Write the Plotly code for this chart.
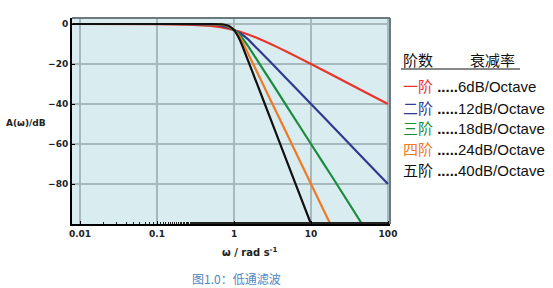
import plotly.graph_objects as go

# Data (frequency in rad/s, attenuation in dB)
freq = [0.008, 0.1, 0.3, 0.5, 0.7, 0.85, 1.0, 1.2, 1.5, 2.0, 3.0, 5.0, 10.0, 20.0, 50.0, 100.0]
order1 = [0.0, -0.04, -0.4, -1.0, -1.7, -2.4, -3.0, -3.9, -5.1, -7.0, -10.0, -14.1, -20.0, -26.0, -34.0, -40.0]
order2 = [0.0, 0.0, -0.04, -0.26, -0.9, -1.9, -3.0, -4.6, -7.4, -12.3, -19.1, -28.0, -40.0, -52.0, -68.0, -80.0]

freq3 = [0.008, 0.1, 0.3, 0.5, 0.7, 0.85, 1.0, 1.2, 1.5, 2.0, 3.0, 5.0, 10.0, 20.0, 46.0]
order3 = [0.0, 0.0, 0.0, -0.07, -0.5, -1.5, -3.0, -5.6, -10.7, -18.1, -28.6, -41.9, -60.0, -78.0, -100.0]

freq4 = [0.008, 0.1, 0.3, 0.5, 0.7, 0.85, 1.0, 1.2, 1.5, 2.0, 3.0, 5.0, 10.0, 17.8]
order4 = [0.0, 0.0, 0.0, -0.02, -0.25, -1.2, -3.0, -6.8, -14.2, -24.1, -38.2, -55.9, -80.0, -100.0]

freq5 = [0.008, 0.1, 0.3, 0.5, 0.7, 0.85, 1.0, 1.2, 1.5, 2.0, 3.0, 5.0, 10.0]
order5 = [0.0, 0.0, 0.0, 0.0, -0.12, -0.9, -3.0, -8.2, -17.7, -30.1, -47.7, -69.9, -100.0]

series_names = ["一阶", "二阶", "三阶", "四阶", "五阶"]
series_rates = ["6dB/Octave", "12dB/Octave", "18dB/Octave", "24dB/Octave", "40dB/Octave"]
colors = ["#e8342c", "#2e3a92", "#1b8c3c", "#f07a24", "#111111"]

x_ticks = [0.01, 0.1, 1, 10, 100]
x_ticktext = ["0.01", "0.1", "1", "10", "100"]
y_ticks = [0, -20, -40, -60, -80]

xs = [freq, freq, freq3, freq4, freq5]
ys = [order1, order2, order3, order4, order5]

fig = go.Figure()
for i in range(5):
    fig.add_trace(go.Scatter(x=xs[i], y=ys[i], mode="lines",
                             line=dict(color=colors[i], width=2.2, shape="spline", smoothing=0.5),
                             name=series_names[i], showlegend=False, hoverinfo="skip"))

L, T, R, B = 72, 18, 390, 224
W, H = 553, 288
pw, ph = R - L, B - T

def px(x):
    return (x - L) / pw

def py(y):
    return (B - y) / ph

tickfont = dict(family="DejaVu Sans", size=9, color="#222222", weight="bold")

fig.update_layout(
    width=W, height=H,
    margin=dict(l=L, r=W - R, t=T, b=H - B),
    paper_bgcolor="white",
    plot_bgcolor="#d9ecf0",
    xaxis=dict(type="log", range=[-2.104, 2.026],
               tickvals=x_ticks, ticktext=x_ticktext, tickfont=tickfont,
               showgrid=True, gridcolor="#a7b9bd", gridwidth=1.5,
               showline=True, linecolor="black", linewidth=2,
               ticks="inside", ticklen=3, tickcolor="black",
               minor=dict(ticks="inside", ticklen=2, tickcolor="#222222", showgrid=False),
               zeroline=False, fixedrange=True),
    yaxis=dict(range=[-100, 3], tickvals=y_ticks, tickfont=tickfont,
               showgrid=True, gridcolor="#a7b9bd", gridwidth=1.5,
               showline=True, linecolor="black", linewidth=2,
               ticks="inside", ticklen=3, tickcolor="black",
               zeroline=False, fixedrange=True),
)

# top and right frame lines (grey)
fig.add_shape(type="line", xref="paper", yref="paper", x0=0, x1=1, y0=1, y1=1,
              line=dict(color="#6b7a80", width=2))
fig.add_shape(type="line", xref="paper", yref="paper", x0=1, x1=1, y0=0, y1=1,
              line=dict(color="#6b7a80", width=2))

# axis titles
fig.add_annotation(text="A(ω)/dB", xref="paper", yref="paper", x=px(4), y=py(123),
                   xanchor="left", yanchor="middle", showarrow=False,
                   font=dict(family="DejaVu Sans", size=9, color="#222222", weight="bold"))
fig.add_annotation(text="ω / rad s<sup>-1</sup>", xref="paper", yref="paper", x=px(249), y=py(252),
                   xanchor="center", yanchor="middle", showarrow=False,
                   font=dict(family="DejaVu Sans", size=10, color="#222222", weight="bold"))

# caption
fig.add_annotation(text="图1.0：低通滤波", xref="paper", yref="paper", x=px(190), y=py(278),
                   xanchor="left", yanchor="middle", showarrow=False,
                   font=dict(family="Noto Sans CJK SC", size=12, color="#4f86c4"))

# legend header
leg_font = dict(family="Noto Sans CJK SC", size=15, color="#111111")
fig.add_annotation(text="阶数", xref="paper", yref="paper", x=px(401), y=py(59),
                   xanchor="left", yanchor="middle", showarrow=False, font=leg_font)
fig.add_annotation(text="衰减率", xref="paper", yref="paper", x=px(468), y=py(59),
                   xanchor="left", yanchor="middle", showarrow=False, font=leg_font)
fig.add_shape(type="line", xref="paper", yref="paper", x0=px(401), x1=px(520), y0=py(69), y1=py(69),
              line=dict(color="#111111", width=1))

row_y = [87, 108, 128, 149, 170]
for i in range(5):
    txt = f'<span style="color:{colors[i]}">{series_names[i]}</span> <b>.....</b>{series_rates[i]}'
    fig.add_annotation(text=txt, xref="paper", yref="paper", x=px(401), y=py(row_y[i]),
                       xanchor="left", yanchor="middle", showarrow=False,
                       font=dict(family="Liberation Sans, Noto Sans CJK SC", size=15, color="#111111"))

fig.write_html("out.html")
